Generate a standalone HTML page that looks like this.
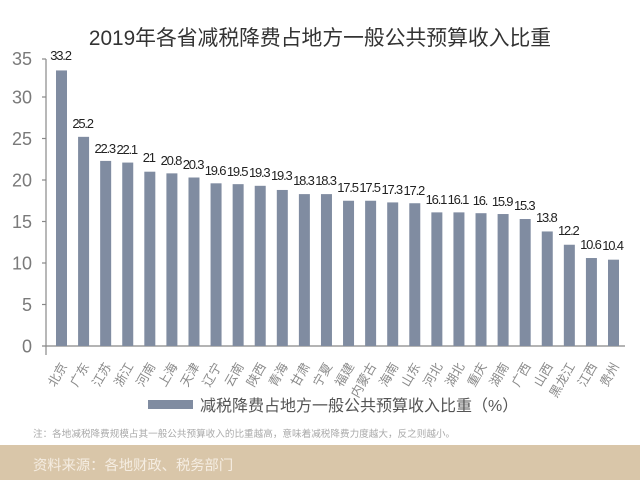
<!DOCTYPE html>
<html><head><meta charset="utf-8"><style>
html,body{margin:0;padding:0;background:#fff;}
svg{display:block;}
text{font-family:"Liberation Sans","Noto Sans CJK SC",sans-serif;}
</style></head><body>
<svg width="640" height="480" viewBox="0 0 640 480" xmlns="http://www.w3.org/2000/svg">
<rect width="640" height="480" fill="#fff"/>
<text x="320" y="45" text-anchor="middle" font-size="20.8" fill="#333">2019年各省减税降费占地方一般公共预算收入比重</text>
<g font-size="18" fill="#7a7a7a" text-anchor="end">
<text x="32" y="352.5">0</text>
<text x="32" y="311">5</text>
<text x="32" y="269.5">10</text>
<text x="32" y="228">15</text>
<text x="32" y="186.5">20</text>
<text x="32" y="145">25</text>
<text x="32" y="103.5">30</text>
<text x="32" y="65">35</text>
</g>
<g stroke="#888" stroke-width="1.2">
<line x1="46" y1="59" x2="46" y2="355"/>
<line x1="42" y1="346" x2="625" y2="346"/>
<line x1="42" y1="59" x2="46" y2="59"/>
<line x1="42" y1="97" x2="46" y2="97"/>
<line x1="42" y1="138.5" x2="46" y2="138.5"/>
<line x1="42" y1="180" x2="46" y2="180"/>
<line x1="42" y1="221.5" x2="46" y2="221.5"/>
<line x1="42" y1="263" x2="46" y2="263"/>
<line x1="42" y1="304.5" x2="46" y2="304.5"/>
</g>
<g fill="#808ca1">
<rect x="56" y="70.44" width="11" height="275.56"/>
<rect x="78.08" y="136.84" width="11" height="209.16"/>
<rect x="100.16" y="160.91" width="11" height="185.09"/>
<rect x="122.24" y="162.57" width="11" height="183.43"/>
<rect x="144.32" y="171.7" width="11" height="174.3"/>
<rect x="166.4" y="173.36" width="11" height="172.64"/>
<rect x="188.48" y="177.51" width="11" height="168.49"/>
<rect x="210.56" y="183.32" width="11" height="162.68"/>
<rect x="232.64" y="184.15" width="11" height="161.85"/>
<rect x="254.72" y="185.81" width="11" height="160.19"/>
<rect x="276.8" y="189.96" width="11" height="156.04"/>
<rect x="298.88" y="194.11" width="11" height="151.89"/>
<rect x="320.96" y="194.11" width="11" height="151.89"/>
<rect x="343.04" y="200.75" width="11" height="145.25"/>
<rect x="365.12" y="200.75" width="11" height="145.25"/>
<rect x="387.2" y="202.41" width="11" height="143.59"/>
<rect x="409.28" y="203.24" width="11" height="142.76"/>
<rect x="431.36" y="212.37" width="11" height="133.63"/>
<rect x="453.44" y="212.37" width="11" height="133.63"/>
<rect x="475.52" y="213.2" width="11" height="132.8"/>
<rect x="497.6" y="214.03" width="11" height="131.97"/>
<rect x="519.68" y="219.01" width="11" height="126.99"/>
<rect x="541.76" y="231.46" width="11" height="114.54"/>
<rect x="563.84" y="244.74" width="11" height="101.26"/>
<rect x="585.92" y="258.02" width="11" height="87.98"/>
<rect x="608" y="259.68" width="11" height="86.32"/>
</g>
<g font-size="13" fill="#222" text-anchor="middle" letter-spacing="-1.2">
<text x="60.5" y="60">33.2</text>
<text x="82.6" y="128">25.2</text>
<text x="104.7" y="153">22.3</text>
<text x="126.7" y="154">22.1</text>
<text x="148.8" y="162">21</text>
<text x="170.9" y="165">20.8</text>
<text x="193" y="169">20.3</text>
<text x="215" y="175">19.6</text>
<text x="237.1" y="176">19.5</text>
<text x="259.2" y="177">19.3</text>
<text x="281.3" y="180">19.3</text>
<text x="303.4" y="185">18.3</text>
<text x="325.5" y="185">18.3</text>
<text x="347.5" y="192">17.5</text>
<text x="369.6" y="192">17.5</text>
<text x="391.7" y="194">17.3</text>
<text x="413.8" y="195">17.2</text>
<text x="435.9" y="204">16.1</text>
<text x="457.9" y="204">16.1</text>
<text x="480" y="205">16.</text>
<text x="502.1" y="206">15.9</text>
<text x="524.2" y="210">15.3</text>
<text x="546.3" y="222">13.8</text>
<text x="568.3" y="235">12.2</text>
<text x="590.4" y="249">10.6</text>
<text x="612.5" y="250">10.4</text>
</g>
<g font-size="12.5" fill="#8a8a8a" text-anchor="end">
<text transform="translate(67.5,366) rotate(-60)">北京</text>
<text transform="translate(89.6,366) rotate(-60)">广东</text>
<text transform="translate(111.7,366) rotate(-60)">江苏</text>
<text transform="translate(133.7,366) rotate(-60)">浙江</text>
<text transform="translate(155.8,366) rotate(-60)">河南</text>
<text transform="translate(177.9,366) rotate(-60)">上海</text>
<text transform="translate(200,366) rotate(-60)">天津</text>
<text transform="translate(222,366) rotate(-60)">辽宁</text>
<text transform="translate(244.1,366) rotate(-60)">云南</text>
<text transform="translate(266.2,366) rotate(-60)">陕西</text>
<text transform="translate(288.3,366) rotate(-60)">青海</text>
<text transform="translate(310.4,366) rotate(-60)">甘肃</text>
<text transform="translate(332.5,366) rotate(-60)">宁夏</text>
<text transform="translate(354.5,366) rotate(-60)">福建</text>
<text transform="translate(376.6,366) rotate(-60)">内蒙古</text>
<text transform="translate(398.7,366) rotate(-60)">海南</text>
<text transform="translate(420.8,366) rotate(-60)">山东</text>
<text transform="translate(442.9,366) rotate(-60)">河北</text>
<text transform="translate(464.9,366) rotate(-60)">湖北</text>
<text transform="translate(487,366) rotate(-60)">重庆</text>
<text transform="translate(509.1,366) rotate(-60)">湖南</text>
<text transform="translate(531.2,366) rotate(-60)">广西</text>
<text transform="translate(553.3,366) rotate(-60)">山西</text>
<text transform="translate(575.3,366) rotate(-60)">黑龙江</text>
<text transform="translate(597.4,366) rotate(-60)">江西</text>
<text transform="translate(619.5,366) rotate(-60)">贵州</text>
</g>
<rect x="148" y="400" width="45" height="9" fill="#808ca1"/>
<text x="200" y="411" font-size="16" fill="#555">减税降费占地方一般公共预算收入比重（%）</text>
<text x="33" y="437" font-size="9.6" fill="#aaa">注：各地减税降费规模占其一般公共预算收入的比重越高，意味着减税降费力度越大，反之则越小。</text>
<rect x="0" y="445" width="640" height="35" fill="#d9c6a9"/>
<text x="33" y="470" font-size="14.3" fill="#f5ede2">资料来源：各地财政、税务部门</text>
</svg>
</body></html>
